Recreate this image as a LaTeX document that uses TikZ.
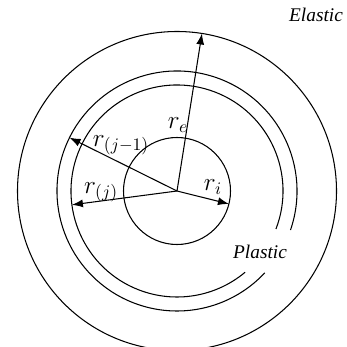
\documentclass[tikz,border=0pt]{standalone}
\usepackage{fontspec}
\setmainfont{Liberation Serif}
\usetikzlibrary{arrows.meta}

\begin{document}
\begin{tikzpicture}[
  ring/.style={draw,line width=0.6pt},
  ar/.style={-{Latex[length=2.2mm,width=1.6mm]},line width=0.6pt},
  rl/.style={font=\fontsize{14}{16}\selectfont,inner sep=1pt},
  zl/.style={font=\fontsize{11}{13}\selectfont\itshape,inner sep=1pt},
]
\useasboundingbox (-3.54,-3.12) rectangle (3.40,3.82);
% ============ rings ============
\coordinate (o) at (0,0);
\draw[ring] (o) circle[radius=3.19];
\draw[ring] (-19:2.40) arc[start angle=-19,end angle=317,radius=2.40];
\draw[ring] (-21:2.12) arc[start angle=-21,end angle=310,radius=2.12];
\draw[ring] (o) circle[radius=1.07];
% ============ radii ============
\coordinate (te) at (81:3.19);
\coordinate (tj1) at (153.6:2.40);
\coordinate (tj) at (187.5:2.12);
\coordinate (ti) at (-14:1.07);
\draw[ar] (o) -- (te);
\draw[ar] (o) -- (tj1);
\draw[ar] (o) -- (tj);
\draw[ar] (o) -- (ti);
% ============ labels ============
\node[rl] (re) at (0.02,1.32) {$r_e$};
\node[rl] (rj1) at (-1.12,0.92) {$r_{(j-1)}$};
\node[rl] (rj) at (-1.52,-0.02) {$r_{(j)}$};
\node[rl] (ri) at (0.72,0.08) {$r_i$};
\node[zl] (plastic) at (1.66,-1.22) {Plastic};
\node[zl] (elastic) at (2.78,3.52) {Elastic};
\end{tikzpicture}
\end{document}
